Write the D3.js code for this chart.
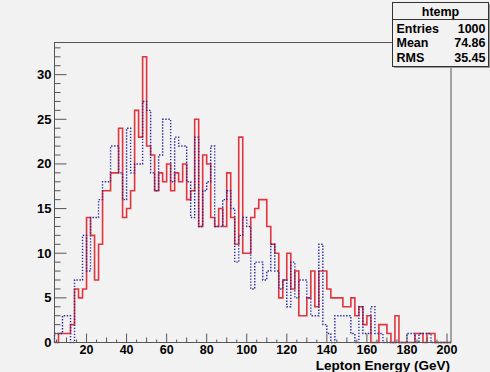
<!DOCTYPE html>
<html>
<head>
<meta charset="utf-8">
<script src="https://cdn.jsdelivr.net/npm/d3@7"></script>
<style>
  body { margin: 0; background: #f2f2f2; }
  svg { display: block; font-family: "Liberation Sans", Arial, sans-serif; }
</style>
</head>
<body>
<div id="chart"></div>
<script>
// binning: 99 bins of 2 GeV starting at 4
const binStart = 4;
const binWidth = 2;
const redCounts = [0,1,1,1,2,6,5,6,14,12,7,11,17,17,19,19,24,14,15,17,26,23,32,22,21,17,19,18,20,17,19,18,20,16,17,25,13,21,20,14,13,15,13,19,14,11,23,10,10,14,15,16,16,13,11,10,5,7,10,6,8,3,3,5,8,4,8,8,6,5,5,5,4,4,5,3,4,2,3,0,0,2,2,1,0,3,0,0,0,0,1,1,0,1,1,0,0,0,0];
const blueCounts = [1,1,3,3,0,7,7,12,8,14,14,16,18,18,22,22,19,16,24,19,20,20,27,26,19,17,21,25,25,18,23,22,22,18,14,23,13,17,18,22,13,13,16,17,15,9,12,14,13,6,9,9,7,8,11,8,6,7,4,9,5,7,7,5,3,3,11,2,1,0,3,3,3,3,1,0,4,1,1,4,1,1,0,0,0,0,0,0,1,1,0,1,1,1,0,0,0,0,0];
const xTicks = [20,40,60,80,100,120,140,160,180,200];
const yTicks = [0,5,10,15,20,25,30];
const statsRows = [["Entries","1000"],["Mean","74.86"],["RMS","35.45"]];

const width = 490, height = 372;
const frame = {left: 54.5, right: 451, top: 42.5, bottom: 342.5};

const svg = d3.select("#chart").append("svg")
  .attr("width", width)
  .attr("height", height);

svg.append("rect").attr("width", width).attr("height", height).attr("fill", "#f2f2f2");

const xMax = binStart + binWidth * redCounts.length;
const x = d3.scaleLinear().domain([binStart, xMax]).range([frame.left, frame.right]);
const y = d3.scaleLinear().domain([0, 33.6]).range([frame.bottom, frame.top]);

// step outline of a histogram
function stepPath(counts) {
  const pts = [[binStart, 0]];
  counts.forEach((c, i) => {
    pts.push([binStart + i * binWidth, c]);
    pts.push([binStart + (i + 1) * binWidth, c]);
  });
  pts.push([xMax, 0]);
  return d3.line().x(d => x(d[0])).y(d => y(d[1]))(pts);
}

svg.append("path")
  .attr("d", stepPath(redCounts))
  .attr("fill", "none")
  .attr("stroke", "#e2343c")
  .attr("stroke-width", 1.6);

svg.append("path")
  .attr("d", stepPath(blueCounts))
  .attr("fill", "none")
  .attr("stroke", "#28289a")
  .attr("stroke-width", 1.4)
  .attr("stroke-dasharray", "1.4,1.6");

// frame
svg.append("rect")
  .attr("x", frame.left).attr("y", frame.top)
  .attr("width", frame.right - frame.left).attr("height", frame.bottom - frame.top)
  .attr("fill", "none").attr("stroke", "#555").attr("stroke-width", 1);

// x axis ticks (inside, pointing up)
const xMinor = d3.range(5, 201, 5);
svg.append("g").selectAll("line").data(xMinor).join("line")
  .attr("x1", d => x(d)).attr("x2", d => x(d))
  .attr("y1", frame.bottom)
  .attr("y2", d => frame.bottom - (d % 20 === 0 ? 9 : d % 10 === 0 ? 5 : 3))
  .attr("stroke", "#555");

svg.append("g").selectAll("text").data(xTicks).join("text")
  .attr("x", d => x(d)).attr("y", 353.5)
  .attr("text-anchor", "middle")
  .attr("font-size", 12.5).attr("font-weight", "bold")
  .text(d => d);

svg.append("text")
  .attr("x", frame.right - 1).attr("y", 369.5)
  .attr("text-anchor", "end")
  .attr("font-size", 13.5).attr("font-weight", "bold")
  .text("Lepton Energy (GeV)");

// y axis ticks (inside, pointing right)
const yMinor = d3.range(0, 34, 1);
svg.append("g").selectAll("line").data(yMinor).join("line")
  .attr("x1", frame.left)
  .attr("x2", d => frame.left + (d % 5 === 0 ? 12 : 6))
  .attr("y1", d => y(d)).attr("y2", d => y(d))
  .attr("stroke", "#555");

svg.append("g").selectAll("text").data(yTicks).join("text")
  .attr("x", 51.5).attr("y", d => y(d) + 4.5)
  .attr("text-anchor", "end")
  .attr("font-size", 13).attr("font-weight", "bold")
  .text(d => d);

// stats box
const box = {x: 392.5, y: 2.5, w: 96, h: 64};
svg.append("rect")
  .attr("x", box.x + 1.5).attr("y", box.y + 1.5).attr("width", box.w).attr("height", box.h)
  .attr("fill", "#999");
svg.append("rect")
  .attr("x", box.x).attr("y", box.y).attr("width", box.w).attr("height", box.h)
  .attr("fill", "#f2f2f2").attr("stroke", "#333");
svg.append("line")
  .attr("x1", box.x).attr("x2", box.x + box.w)
  .attr("y1", box.y + 17).attr("y2", box.y + 17)
  .attr("stroke", "#333");
svg.append("text")
  .attr("x", box.x + box.w / 2).attr("y", box.y + 13)
  .attr("text-anchor", "middle")
  .attr("font-size", 12.5).attr("font-weight", "bold")
  .text("htemp");
statsRows.forEach((r, i) => {
  const ty = box.y + 30 + i * 14.5;
  svg.append("text").attr("x", box.x + 4).attr("y", ty)
    .attr("font-size", 12.5).attr("font-weight", "bold").text(r[0]);
  svg.append("text").attr("x", box.x + box.w - 3).attr("y", ty)
    .attr("text-anchor", "end")
    .attr("font-size", 12.5).attr("font-weight", "bold").text(r[1]);
});
</script>
</body>
</html>
